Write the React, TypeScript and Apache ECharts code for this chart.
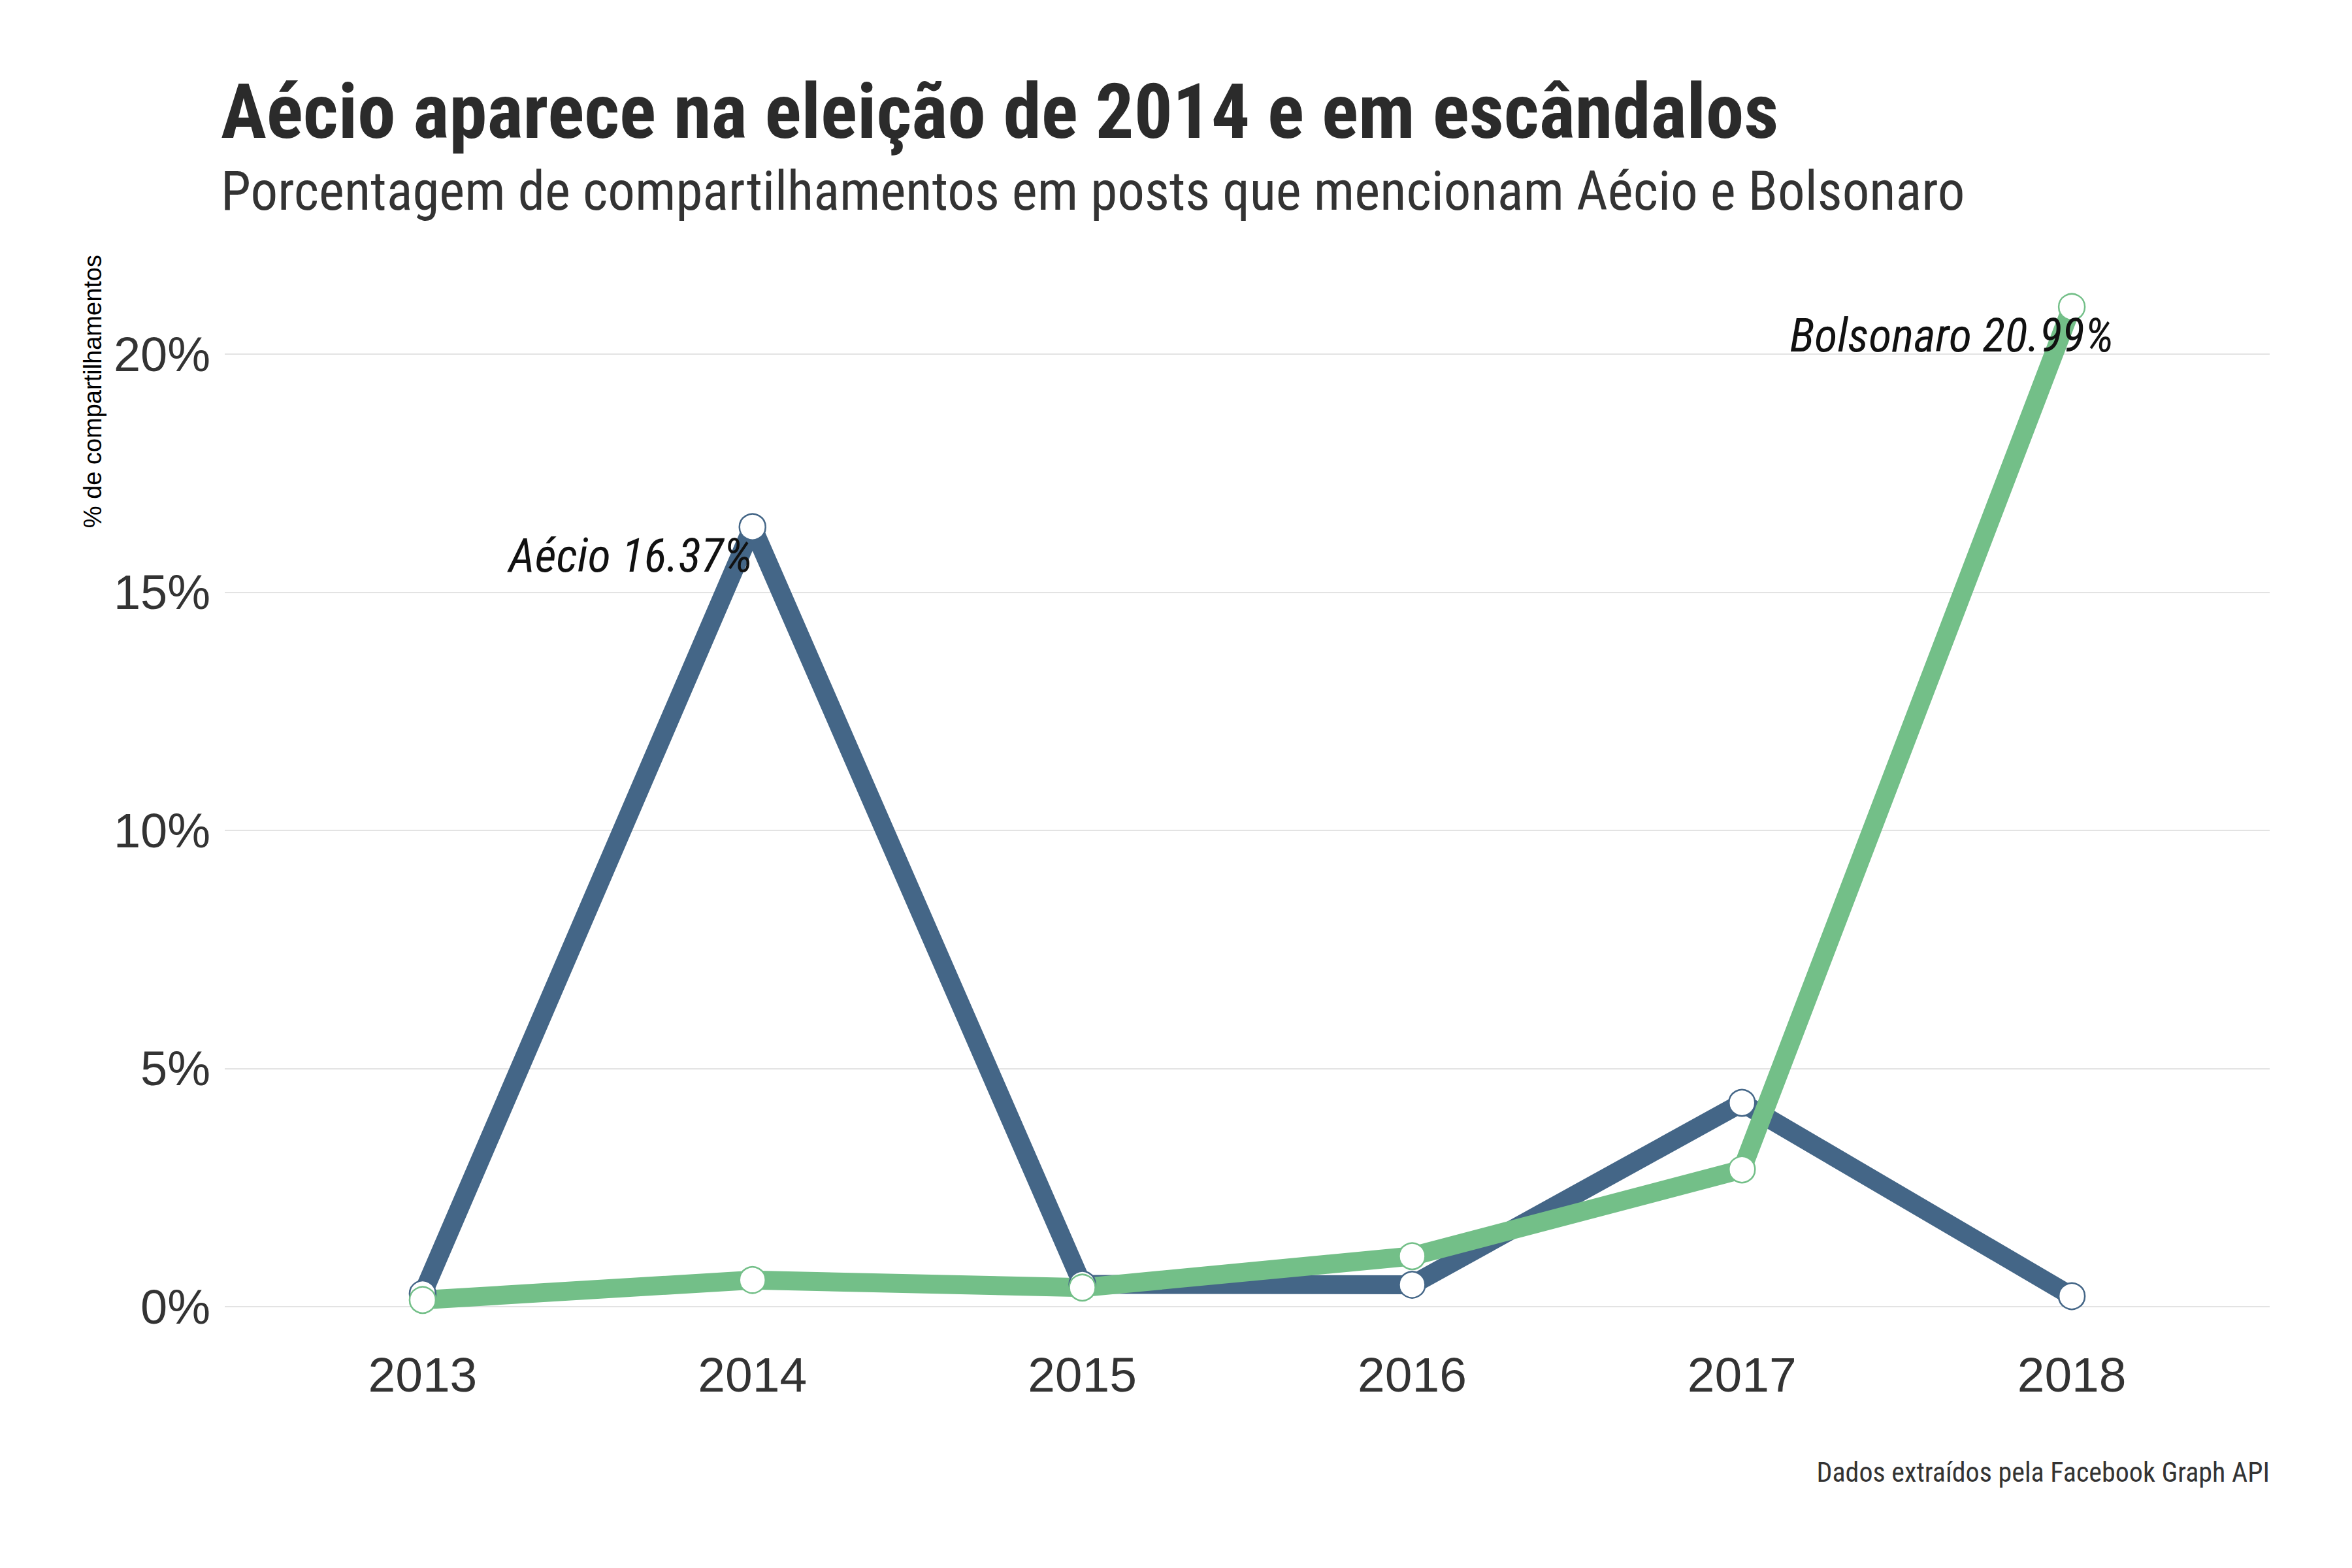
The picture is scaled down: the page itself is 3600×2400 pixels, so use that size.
import React, { useEffect, useRef } from "react";
import * as echarts from "echarts";

const years = [2013, 2014, 2015, 2016, 2017, 2018];
const aecio = [0.27, 16.37, 0.47, 0.46, 4.28, 0.22];
const bolsonaro = [0.14, 0.56, 0.4, 1.06, 2.88, 20.99];
const yTicks = [0, 5, 10, 15, 20];
const seriesNames = ["Aécio", "Bolsonaro"];
const colors = ["#446687", "#73bf88"];
const annotationIndex = [1, 5];
const annotationText = ["Aécio 16.37%", "Bolsonaro 20.99%"];

const TITLE = "Aécio aparece na eleição de 2014 e em escândalos";
const SUBTITLE = "Porcentagem de compartilhamentos em posts que mencionam Aécio e Bolsonaro";
const CAPTION = "Dados extraídos pela Facebook Graph API";
const Y_TITLE = "% de compartilhamentos";

const COND = "'Roboto Condensed', 'Liberation Sans Narrow', 'DejaVu Sans Condensed', sans-serif";
const SANS = "'Liberation Sans', Arial, sans-serif";

export default function App() {
  const ref = useRef<HTMLDivElement>(null);
  useEffect(() => {
    if (!ref.current) return;
    const chart = echarts.init(ref.current, undefined, { renderer: "svg" });
    const values = [aecio, bolsonaro];
    const lineSeries = values.map((vals, s) => ({
      type: "line",
      name: seriesNames[s],
      data: years.map((y, i) => [y, vals[i]]),
      showSymbol: false,
      clip: false,
      z: 2 + s,
      lineStyle: { color: colors[s], width: 29, join: "round", cap: "butt" },
    }));
    const pointSeries = values.map((vals, s) => ({
      type: "scatter",
      name: seriesNames[s] + " pts",
      clip: false,
      z: 10 + s,
      symbol: "circle",
      symbolSize: 40,
      itemStyle: { color: "#ffffff", borderColor: colors[s], borderWidth: 2.5, opacity: 1 },
      emphasis: { disabled: true },
      data: years.map((y, i) => {
        const item: any = { value: [y, vals[i]] };
        if (i === annotationIndex[s]) {
          item.label = {
            show: true,
            formatter: annotationText[s],
            position: "inside",
            align: "right",
            verticalAlign: "middle",
            offset: s === 0 ? [0, 44] : [64, 44],
            fontFamily: COND,
            fontStyle: "italic",
            fontSize: 72,
            color: "#111111",
            opacity: 1,
          };
        }
        return item;
      }),
    }));

    chart.setOption({
      animation: false,
      backgroundColor: "#ffffff",
      grid: { left: 344, right: 126, top: 542, bottom: 400, containLabel: false },
      xAxis: {
        type: "value",
        min: 2012.4,
        max: 2018.6,
        interval: 0.2,
        axisLine: { show: false },
        axisTick: { show: false },
        splitLine: { show: false },
        axisLabel: {
          margin: 66,
          fontFamily: SANS,
          fontSize: 75,
          color: "#333333",
          formatter: (v: number) =>
            Math.abs(v - Math.round(v)) < 1e-6 && years.indexOf(Math.round(v)) >= 0
              ? String(Math.round(v))
              : "",
        },
      },
      yAxis: {
        type: "value",
        min: yTicks[0],
        max: yTicks[yTicks.length - 1],
        interval: 5,
        axisLine: { show: false },
        axisTick: { show: false },
        splitLine: { show: true, lineStyle: { color: "#e3e3e3", width: 2 } },
        axisLabel: {
          margin: 22,
          fontFamily: SANS,
          fontSize: 74,
          color: "#333333",
          formatter: (v: number) => v + "%",
        },
      },
      series: [...lineSeries, ...pointSeries],
      graphic: [
        {
          type: "text",
          x: 338,
          y: 171,
          style: {
            text: TITLE,
            fontFamily: COND,
            fontWeight: "bold",
            fontSize: 117,
            fill: "#2b2b2b",
            align: "left",
            verticalAlign: "middle",
          },
        },
        {
          type: "text",
          x: 338,
          y: 292,
          style: {
            text: SUBTITLE,
            fontFamily: COND,
            fontSize: 83,
            fill: "#333333",
            align: "left",
            verticalAlign: "middle",
          },
        },
        {
          type: "text",
          x: 3474,
          y: 2253,
          style: {
            text: CAPTION,
            fontFamily: COND,
            fontSize: 42,
            fill: "#333333",
            align: "right",
            verticalAlign: "middle",
          },
        },
        {
          type: "text",
          x: 142,
          y: 390,
          rotation: Math.PI / 2,
          style: {
            text: Y_TITLE,
            fontFamily: SANS,
            fontSize: 38,
            fill: "#000000",
            align: "right",
            verticalAlign: "middle",
          },
        },
      ],
    });
    return () => chart.dispose();
  }, []);
  return (
    <div
      ref={ref}
      style={{ position: "fixed", left: 0, top: 0, width: 3600, height: 2400, background: "#fff" }}
    />
  );
}
